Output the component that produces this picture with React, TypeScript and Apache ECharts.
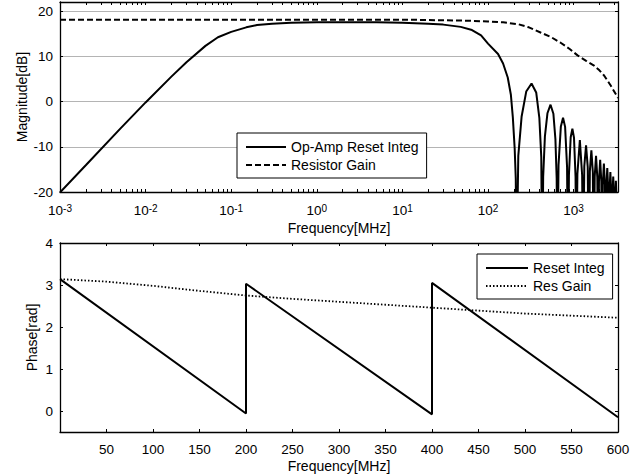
import React, { useEffect, useRef } from "react";
import * as echarts from "echarts";

// ---- Top plot: magnitude vs frequency (MHz, log axis) ----
const magFreq = [
  0.001, 0.002, 0.005, 0.01, 0.02, 0.03, 0.05, 0.07, 0.1, 0.15, 0.2, 0.3, 0.5, 1, 5, 10, 20, 30, 48, 65, 83, 100,
  131, 150, 170, 185, 195, 205, 211, 215,
  225.8, 247, 279.5, 322.5, 365.5, 397.8, 419, 430,
  440.8, 462, 494.5, 537.5, 580.5, 612.8, 634, 645,
  666.5, 709.5, 752.5, 795.5, 838.5, 860,
  881.5, 924.5, 967.5, 1010.5, 1053.5, 1075,
  1107, 1182.5, 1258, 1290,
  1333, 1397.5, 1462, 1505,
  1548, 1612.5, 1677, 1720,
  1763, 1827.5, 1892, 1935,
  1978, 2042.5, 2107, 2150,
  2193, 2257.5, 2322, 2365,
  2408, 2472.5, 2537, 2580,
  2623, 2687.5, 2752, 2795,
  2838, 2902.5, 2967, 3010,
  3053, 3117.5, 3182, 3225,
  3262, 3300,
];
const magResetInteg = [
  -20.1, -14.1, -6.1, -0.2, 5.5, 8.7, 12.3, 14.2, 15.4, 16.4, 16.9, 17.2, 17.4, 17.5, 17.5, 17.4, 17.2, 17.0, 16.5, 15.8, 14.6, 12.8,
  10.5, 8.4, 5.3, 1.5, -3.5, -10.5, -17, -40,
  -12, -3.3, 2.2, 4.0, 2.0, -3.6, -12.3, -40,
  -16.7, -7.7, -2.6, -0.7, -2.7, -8.3, -17, -40,
  -14, -5.5, -3.6, -5.6, -14.5, -40,
  -16.3, -7.9, -6.0, -8.0, -16.7, -40,
  -16, -8.5, -16.3, -40,
  -14.3, -9.7, -14.5, -40,
  -15.4, -10.8, -15.6, -40,
  -16.6, -12.0, -16.8, -40,
  -17.5, -12.9, -17.7, -40,
  -18.3, -13.7, -18.5, -40,
  -19.3, -14.7, -19.5, -40,
  -20.2, -15.6, -20.4, -40,
  -21.2, -16.6, -21.4, -40,
  -22.1, -17.5, -22.3, -40,
  -22.5, -20.5,
];
const resFreq = [0.001, 1, 10, 50, 100, 150, 224, 300, 417, 550, 705, 900, 1112, 1400, 1714, 2000, 2280, 2700, 3300];
const magResistor = [18.1, 18.1, 18.1, 17.9, 17.7, 17.5, 17.1, 16.4, 15.2, 14.2, 13.0, 11.6, 10.2, 9.0, 8.0, 6.9, 5.7, 3.6, 0.8];

// ---- Bottom plot: phase vs frequency (MHz) ----
const phaseFreq = [0, 200, 200, 400, 400, 600];
const phaseResetInteg = [3.14, -0.06, 3.03, -0.08, 3.05, -0.15];
const resGainFreq = [0, 50, 100, 150, 200, 250, 300, 350, 400, 450, 500, 550, 600];
const phaseResGain = [3.14, 3.08, 2.98, 2.86, 2.75, 2.67, 2.6, 2.53, 2.46, 2.39, 2.32, 2.27, 2.22];

// ---- Tick labels ----
const logDecades = [0.001, 0.01, 0.1, 1, 10, 100, 1000];
const minorFactors = [1, 2, 3, 4, 5, 6, 7, 8, 9];
const phaseYTicks = [0, 1, 2, 3, 4];

const FONT = "'Liberation Sans', Arial, Helvetica, sans-serif";
const logTicks: number[] = [];
logDecades.forEach((d) => minorFactors.forEach((m) => { const v = +(d * m).toPrecision(3); if (v <= 3300) logTicks.push(v); }));

const zip = (xs: number[], ys: number[]) => xs.map((x, i) => [x, ys[i]]);

export default function App() {
  const ref = useRef<HTMLDivElement>(null);
  useEffect(() => {
    if (!ref.current) return;
    const chart = echarts.init(ref.current, null, { renderer: "svg" });
    const axisLine = { show: true, onZero: false, lineStyle: { color: "#000", width: 1.3 } };
    const tick = { show: true, inside: true, length: 3, lineStyle: { color: "#000", width: 1 } };
    const lbl = { color: "#000", fontSize: 13.5, fontFamily: FONT };
    const nameStyle = { color: "#000", fontSize: 14, fontFamily: FONT };
    const logCommon = { type: "log" as const, logBase: 10, min: 0.001, max: 3300, gridIndex: 0, splitLine: { show: false } };
    const legendCommon = {
      orient: "vertical",
      itemHeight: 14,
      itemGap: 4,
      itemTextGap: 4,
      padding: [7, 8, 6, 8],
      borderColor: "#000",
      borderWidth: 1,
      backgroundColor: "#fff",
      textStyle: { ...nameStyle },
      itemStyle: { opacity: 0, color: "transparent", borderWidth: 0 },
      selectedMode: false,
    };
    const option: any = {
      animation: false,
      backgroundColor: "#fff",
      grid: [
        { left: 60, right: 26, top: 2, bottom: 284 },
        { left: 60, right: 26, top: 243, bottom: 44 },
      ],
      xAxis: [
        {
          ...logCommon,
          position: "bottom",
          axisLine,
          axisTick: { ...tick, customValues: logTicks },
          axisLabel: {
            customValues: logDecades,
            margin: 11,
            formatter: (v: number) => `{b|10}{s|${Math.round(Math.log10(v))}}`,
            rich: {
              b: { ...lbl, lineHeight: 14, verticalAlign: "bottom" },
              s: { ...lbl, fontSize: 10, lineHeight: 10, verticalAlign: "top" },
            },
          },
          name: "Frequency[MHz]",
          nameLocation: "middle",
          nameGap: 29,
          nameMoveOverlap: false,
          nameTextStyle: nameStyle,
        },
        {
          ...logCommon,
          position: "top",
          axisLine,
          axisTick: { ...tick, customValues: logTicks },
          axisLabel: { show: false },
        },
        {
          type: "value",
          gridIndex: 1,
          min: 0,
          max: 600,
          interval: 50,
          position: "bottom",
          axisLine,
          axisTick: tick,
          splitLine: { show: false },
          axisLabel: { ...lbl, margin: 10, showMinLabel: false },
          name: "Frequency[MHz]",
          nameLocation: "middle",
          nameGap: 27,
          nameMoveOverlap: false,
          nameTextStyle: nameStyle,
        },
        {
          type: "value",
          gridIndex: 1,
          min: 0,
          max: 600,
          interval: 50,
          position: "top",
          axisLine,
          axisTick: tick,
          splitLine: { show: false },
          axisLabel: { show: false },
        },
      ],
      yAxis: [
        {
          type: "value",
          gridIndex: 0,
          min: -20,
          max: 22,
          interval: 10,
          position: "left",
          axisLine,
          axisTick: tick,
          axisLabel: { ...lbl, margin: 7, showMaxLabel: false },
          splitLine: { show: true, lineStyle: { color: "#b4b4b4", width: 1 } },
          name: "Magnitude[dB]",
          nameLocation: "middle",
          nameGap: 31,
          nameMoveOverlap: false,
          nameTextStyle: nameStyle,
        },
        {
          type: "value",
          gridIndex: 0,
          min: -20,
          max: 22,
          interval: 10,
          position: "right",
          axisLine,
          axisTick: tick,
          axisLabel: { show: false },
          splitLine: { show: false },
        },
        {
          type: "value",
          gridIndex: 1,
          min: -0.5,
          max: 4,
          position: "left",
          axisLine,
          axisTick: { ...tick, customValues: phaseYTicks },
          axisLabel: { ...lbl, margin: 7, customValues: phaseYTicks },
          splitLine: { show: false },
          name: "Phase[rad]",
          nameLocation: "middle",
          nameGap: 21,
          nameMoveOverlap: false,
          nameTextStyle: nameStyle,
        },
        {
          type: "value",
          gridIndex: 1,
          min: -0.5,
          max: 4,
          position: "right",
          axisLine,
          axisTick: { ...tick, customValues: phaseYTicks },
          axisLabel: { show: false },
          splitLine: { show: false },
        },
      ],
      legend: [
        { ...legendCommon, data: ["Op-Amp Reset Integ", "Resistor Gain"], left: 237, top: 133, itemWidth: 40 },
        { ...legendCommon, data: ["Reset Integ", "Res Gain"], left: 477, top: 254, itemWidth: 42 },
      ],
      series: [
        {
          name: "Op-Amp Reset Integ",
          type: "line",
          xAxisIndex: 0,
          yAxisIndex: 0,
          data: zip(magFreq, magResetInteg),
          symbol: "none",
          clip: true,
          lineStyle: { color: "#000", width: 2 },
          itemStyle: { color: "#000" },
        },
        {
          name: "Resistor Gain",
          type: "line",
          xAxisIndex: 0,
          yAxisIndex: 0,
          data: zip(resFreq, magResistor),
          symbol: "none",
          clip: true,
          lineStyle: { color: "#000", width: 2, type: [6, 3] },
          itemStyle: { color: "#000" },
        },
        {
          name: "Reset Integ",
          type: "line",
          xAxisIndex: 2,
          yAxisIndex: 2,
          data: zip(phaseFreq, phaseResetInteg),
          symbol: "none",
          clip: true,
          lineStyle: { color: "#000", width: 2 },
          itemStyle: { color: "#000" },
        },
        {
          name: "Res Gain",
          type: "line",
          xAxisIndex: 2,
          yAxisIndex: 2,
          data: zip(resGainFreq, phaseResGain),
          symbol: "none",
          clip: true,
          lineStyle: { color: "#000", width: 1.8, type: [1.5, 2] },
          itemStyle: { color: "#000" },
        },
      ],
    };
    chart.setOption(option);
    return () => chart.dispose();
  }, []);
  return <div ref={ref} style={{ width: 644, height: 476, position: "absolute", left: 0, top: 0 }} />;
}
